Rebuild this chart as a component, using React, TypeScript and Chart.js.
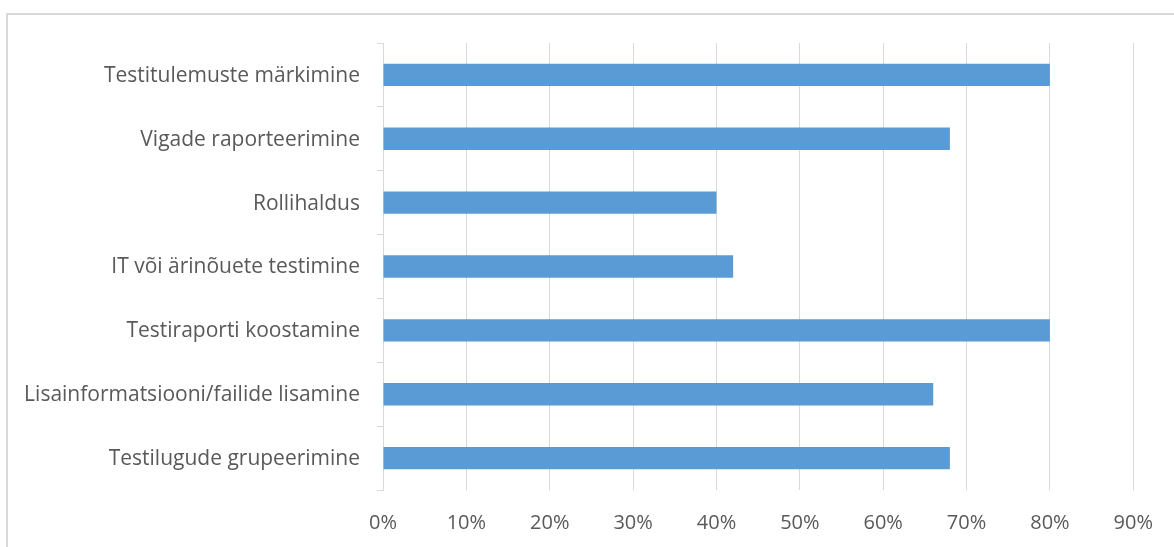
import React, { useEffect, useRef } from "react";
import { Chart, registerables } from "chart.js";

Chart.register(...registerables);

// Functions covered by the test management tools (share of respondents)
const categories = [
  "Testitulemuste märkimine",
  "Vigade raporteerimine",
  "Rollihaldus",
  "IT või ärinõuete testimine",
  "Testiraporti koostamine",
  "Lisainformatsiooni/failide lisamine",
  "Testilugude grupeerimine",
];
const shares = [80, 68, 40, 42, 80, 66, 68];
const xTicks = [0, 10, 20, 30, 40, 50, 60, 70, 80, 90];

const FONT = "'Open Sans', 'DejaVu Sans', sans-serif";
const TEXT = "#595959";
const GRID = "#d9d9d9";
const BAR = "#5b9bd5";

export default function App() {
  const canvasRef = useRef<HTMLCanvasElement | null>(null);

  useEffect(() => {
    if (!canvasRef.current) return;
    const chart = new Chart(canvasRef.current, {
      type: "bar",
      data: {
        labels: categories,
        datasets: [
          {
            data: shares,
            backgroundColor: BAR,
            borderWidth: 0,
            barPercentage: 0.35,
            categoryPercentage: 1,
          },
        ],
      },
      options: {
        indexAxis: "y",
        animation: false,
        responsive: false,
        maintainAspectRatio: false,
        layout: { padding: { top: 43, right: 38, bottom: 0, left: 0 } },
        plugins: {
          legend: { display: false },
          tooltip: { enabled: false },
        },
        scales: {
          x: {
            type: "linear",
            min: 0,
            max: 90,
            afterBuildTicks: (axis: any) => {
              axis.ticks = xTicks.map((v) => ({ value: v }));
            },
            afterFit: (axis: any) => {
              axis.height = 57;
            },
            grid: {
              color: GRID,
              lineWidth: 1,
              drawTicks: false,
            },
            border: { display: false },
            ticks: {
              padding: 21,
              color: TEXT,
              font: { family: FONT, size: 20 },
              callback: (v: any) => `${v}%`,
              maxRotation: 0,
            },
          },
          y: {
            afterFit: (axis: any) => {
              axis.width = 383;
            },
            grid: {
              color: GRID,
              drawOnChartArea: false,
              drawTicks: true,
              tickLength: 6,
              offset: true,
            },
            border: { display: true, color: GRID, width: 1 },
            ticks: {
              padding: 17,
              labelOffset: 1,
              color: TEXT,
              font: { family: FONT, size: 21 },
            },
          },
        },
      },
    });
    return () => chart.destroy();
  }, []);

  return (
    <div
      style={{
        position: "fixed",
        inset: 0,
        overflow: "hidden",
        background: "#ffffff",
      }}
    >
      <div
        style={{
          position: "absolute",
          left: 6,
          top: 13,
          width: 1200,
          height: 600,
          border: "2px solid #d9d9d9",
          boxSizing: "border-box",
        }}
      />
      <canvas
        ref={canvasRef}
        width={1174}
        height={547}
        style={{ position: "absolute", left: 0, top: 0, width: 1174, height: 547 }}
      />
    </div>
  );
}
